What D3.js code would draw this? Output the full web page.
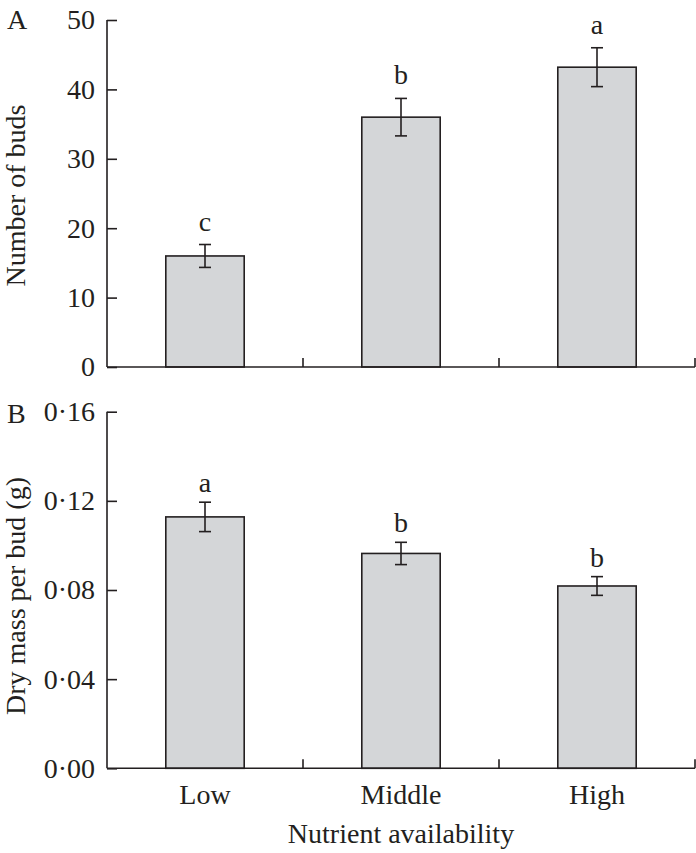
<!DOCTYPE html>
<html>
<head>
<meta charset="utf-8">
<script src="https://cdn.jsdelivr.net/npm/d3@7"></script>
<style>
  html, body { margin: 0; padding: 0; background: #fff; }
  svg { display: block; }
  text { font-family: "Liberation Serif", "Times New Roman", serif; fill: #231f20; }
</style>
</head>
<body>
<svg id="chart" width="696" height="853"></svg>
<script>
const categories = ["Low", "Middle", "High"];
const budsMean = [16.0, 36.0, 43.2];
const budsErr = [1.65, 2.7, 2.8];
const budsLetters = ["c", "b", "a"];
const massMean = [0.1128, 0.0964, 0.0818];
const massErr = [0.0066, 0.005, 0.0042];
const massLetters = ["a", "b", "b"];
const budsTicks = [0, 10, 20, 30, 40, 50];
const massTicks = [0, 0.04, 0.08, 0.12, 0.16];

const svg = d3.select("#chart");
const ink = "#231f20";
const fs = 28;
const left = 107, right = 695;
const pad = 0.6;

const x = d3.scaleBand().domain(categories).range([left, right]).paddingInner(pad).paddingOuter(pad / 2);
const boundaries = d3.range(categories.length + 1).map(i => left + i * x.step());

function panel(opts) {
  const y = d3.scaleLinear().domain(opts.domain).range([opts.bottom, opts.top]);
  const g = svg.append("g");

  // bars
  const data = categories.map((c, i) => ({ c, v: opts.mean[i], e: opts.err[i], l: opts.letters[i] }));
  g.selectAll("rect.bar").data(data).join("rect")
    .attr("class", "bar")
    .attr("x", d => x(d.c))
    .attr("y", d => y(d.v))
    .attr("width", x.bandwidth())
    .attr("height", d => y(0) - y(d.v))
    .attr("fill", "#d4d6d8")
    .attr("stroke", ink)
    .attr("stroke-width", 1.6);

  // error bars
  const cx = d => x(d.c) + x.bandwidth() / 2;
  const cap = 6;
  g.selectAll("line.eb").data(data).join("line")
    .attr("x1", cx).attr("x2", cx)
    .attr("y1", d => y(d.v + d.e)).attr("y2", d => y(d.v - d.e))
    .attr("stroke", ink).attr("stroke-width", 1.6);
  g.selectAll("line.capT").data(data).join("line")
    .attr("x1", d => cx(d) - cap).attr("x2", d => cx(d) + cap)
    .attr("y1", d => y(d.v + d.e)).attr("y2", d => y(d.v + d.e))
    .attr("stroke", ink).attr("stroke-width", 1.6);
  g.selectAll("line.capB").data(data).join("line")
    .attr("x1", d => cx(d) - cap).attr("x2", d => cx(d) + cap)
    .attr("y1", d => y(d.v - d.e)).attr("y2", d => y(d.v - d.e))
    .attr("stroke", ink).attr("stroke-width", 1.6);

  // letters
  g.selectAll("text.letter").data(data).join("text")
    .attr("x", cx)
    .attr("y", d => y(d.v + d.e) - opts.letterGap)
    .attr("text-anchor", "middle")
    .attr("font-size", fs)
    .text(d => d.l);

  // y axis
  const yAxis = d3.axisLeft(y).tickValues(opts.ticks).tickSize(-10).tickPadding(12).tickFormat(opts.fmt);
  const ya = svg.append("g").attr("transform", `translate(${left},0)`).call(yAxis);
  ya.select(".domain").attr("stroke", ink).attr("stroke-width", 1.6).attr("d", `M0,${opts.top}V${opts.bottom}`);
  ya.selectAll(".tick line").attr("stroke", ink).attr("stroke-width", 1.6);
  ya.selectAll(".tick text").attr("font-size", fs).attr("font-family", "Liberation Serif").attr("fill", ink);

  // x axis line + boundary ticks
  svg.append("line").attr("x1", left).attr("x2", right)
    .attr("y1", y(0)).attr("y2", y(0)).attr("stroke", ink).attr("stroke-width", 1.6);
  svg.selectAll(null).data(boundaries.slice(1)).join("line")
    .attr("x1", d => d).attr("x2", d => d)
    .attr("y1", y(0)).attr("y2", y(0) - 9)
    .attr("stroke", ink).attr("stroke-width", 1.6);

  if (opts.showLabels) {
    const xa = svg.append("g").attr("transform", `translate(0,${y(0)})`)
      .call(d3.axisBottom(x).tickSize(0).tickPadding(16));
    xa.select(".domain").remove();
    xa.selectAll(".tick text").attr("font-size", fs).attr("font-family", "Liberation Serif").attr("fill", ink);
  }

  // y label
  svg.append("text")
    .attr("transform", `translate(25,${(opts.top + opts.bottom) / 2 + opts.labelShift}) rotate(-90)`)
    .attr("text-anchor", "middle")
    .attr("font-size", fs)
    .text(opts.ylabel);

  // panel letter
  svg.append("text").attr("x", 7).attr("y", opts.panelY).attr("font-size", fs).text(opts.panel);
}

panel({
  domain: [0, 50], top: 20, bottom: 367, mean: budsMean, err: budsErr, letters: budsLetters,
  ticks: budsTicks, fmt: d3.format("d"), letterGap: 14, ylabel: "Number of buds", labelShift: 2,
  panel: "A", panelY: 29, showLabels: false
});
panel({
  domain: [0, 0.16], top: 411.7, bottom: 768.3, mean: massMean, err: massErr, letters: massLetters,
  ticks: massTicks, fmt: d => d3.format(".2f")(d).replace(".", "\u00b7"), letterGap: 10,
  ylabel: "Dry mass per bud (g)", labelShift: 6, panel: "B", panelY: 423, showLabels: true
});

svg.append("text")
  .attr("x", (left + right) / 2)
  .attr("y", 843)
  .attr("text-anchor", "middle")
  .attr("font-size", fs)
  .text("Nutrient availability");
</script>
</body>
</html>
